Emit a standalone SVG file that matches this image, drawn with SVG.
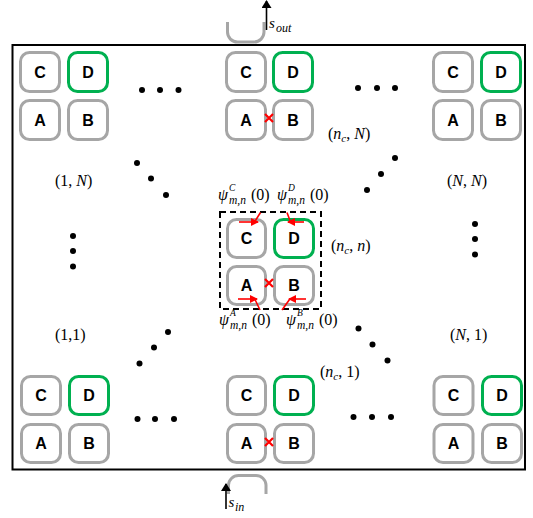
<svg xmlns="http://www.w3.org/2000/svg" width="533" height="518" viewBox="0 0 533 518">
<style>
.box{fill:none;stroke:#a6a6a6;stroke-width:3}
.grn{stroke:#00b050}
.lbl{font-family:"Liberation Sans",Arial,sans-serif;font-weight:bold;font-size:16px;text-anchor:middle;fill:#000}
.m{font-family:"Liberation Serif","DejaVu Serif",serif;font-size:16px;fill:#000}
.i{font-style:italic}
.s{font-size:11px}
.sb{font-size:11.5px}
.sp{font-size:9.5px}
.dot{fill:#000}
.red{stroke:#ff0000;stroke-width:1.6;fill:none}
.x{stroke:#ff0000;stroke-width:2.2}
.u{fill:none;stroke:#a6a6a6;stroke-width:3}
</style>
<defs>
<marker id="rh" viewBox="0 0 8 8" refX="7" refY="4" markerWidth="8" markerHeight="8" markerUnits="userSpaceOnUse" orient="auto">
<path d="M0,0 L8,4 L0,8 Z" fill="#ff0000"/>
</marker>
<marker id="bh" viewBox="0 0 8 10" refX="7" refY="5" markerWidth="8" markerHeight="10" markerUnits="userSpaceOnUse" orient="auto">
<path d="M0,0 L8,5 L0,10 Z" fill="#000"/>
</marker>
</defs>
<rect x="12.5" y="45" width="512.5" height="424.5" fill="none" stroke="#000" stroke-width="2"/>

<!-- I/O couplers -->
<path class="u" d="M227.5 22 V32 A10 10 0 0 0 237.5 42 H254 A10 10 0 0 0 264 32 V22"/>
<path class="u" d="M228.5 494 V485 A10 10 0 0 1 238.5 475.5 H256 A10 10 0 0 1 266 485 V494"/>

<!-- Module (1,N) -->
<g id="m-1-N">
<g id="m-1-N-C"><rect class="box" x="20.5" y="52.5" width="39" height="39" rx="9"/><text class="lbl" x="40" y="77.5">C</text></g>
<g id="m-1-N-D"><rect class="box grn" x="68.5" y="52.5" width="39" height="39" rx="9"/><text class="lbl" x="88" y="77.5">D</text></g>
<g id="m-1-N-A"><rect class="box" x="20.5" y="100.5" width="39" height="39" rx="9"/><text class="lbl" x="40" y="125.5">A</text></g>
<g id="m-1-N-B"><rect class="box" x="68.5" y="100.5" width="39" height="39" rx="9"/><text class="lbl" x="88" y="125.5">B</text></g>
</g>
<!-- Module (nc,N) -->
<g id="m-nc-N">
<g id="m-nc-N-C"><rect class="box" x="226.5" y="52.5" width="39" height="39" rx="9"/><text class="lbl" x="246" y="77.5">C</text></g>
<g id="m-nc-N-D"><rect class="box grn" x="273.5" y="52.5" width="39" height="39" rx="9"/><text class="lbl" x="293" y="77.5">D</text></g>
<g id="m-nc-N-A"><rect class="box" x="226.5" y="100.5" width="39" height="39" rx="9"/><text class="lbl" x="246" y="125.5">A</text></g>
<g id="m-nc-N-B"><rect class="box" x="273.5" y="100.5" width="39" height="39" rx="9"/><text class="lbl" x="293" y="125.5">B</text></g>
</g>
<!-- Module (N,N) -->
<g id="m-N-N">
<g id="m-N-N-C"><rect class="box" x="433.5" y="52.5" width="39" height="39" rx="9"/><text class="lbl" x="453" y="77.5">C</text></g>
<g id="m-N-N-D"><rect class="box grn" x="481.5" y="52.5" width="39" height="39" rx="9"/><text class="lbl" x="501" y="77.5">D</text></g>
<g id="m-N-N-A"><rect class="box" x="433.5" y="100.5" width="39" height="39" rx="9"/><text class="lbl" x="453" y="125.5">A</text></g>
<g id="m-N-N-B"><rect class="box" x="481.5" y="100.5" width="39" height="39" rx="9"/><text class="lbl" x="501" y="125.5">B</text></g>
</g>
<!-- Module (nc,n) -->
<g id="m-nc-n">
<g id="m-nc-n-C"><rect class="box" x="227.5" y="219.5" width="38" height="38" rx="9"/><text class="lbl" x="246.5" y="244">C</text></g>
<g id="m-nc-n-D"><rect class="box grn" x="274.5" y="219.5" width="39" height="38" rx="9"/><text class="lbl" x="294" y="244">D</text></g>
<g id="m-nc-n-A"><rect class="box" x="227.5" y="266.5" width="38" height="38" rx="9"/><text class="lbl" x="246.5" y="291">A</text></g>
<g id="m-nc-n-B"><rect class="box" x="274.5" y="266.5" width="39" height="38" rx="9"/><text class="lbl" x="294" y="291">B</text></g>
<rect x="220" y="212" width="101" height="97" fill="none" stroke="#000" stroke-width="2" stroke-dasharray="6,4"/>
</g>
<!-- Module (1,1) -->
<g id="m-1-1">
<g id="m-1-1-C"><rect class="box" x="21.5" y="376.5" width="39" height="38" rx="9"/><text class="lbl" x="41" y="401">C</text></g>
<g id="m-1-1-D"><rect class="box grn" x="69.5" y="376.5" width="39" height="38" rx="9"/><text class="lbl" x="89" y="401">D</text></g>
<g id="m-1-1-A"><rect class="box" x="21.5" y="424.5" width="39" height="38" rx="9"/><text class="lbl" x="41" y="449">A</text></g>
<g id="m-1-1-B"><rect class="box" x="69.5" y="424.5" width="39" height="38" rx="9"/><text class="lbl" x="89" y="449">B</text></g>
</g>
<!-- Module (nc,1) -->
<g id="m-nc-1">
<g id="m-nc-1-C"><rect class="box" x="227.5" y="376.5" width="38" height="38" rx="9"/><text class="lbl" x="246.5" y="401">C</text></g>
<g id="m-nc-1-D"><rect class="box grn" x="274.5" y="376.5" width="39" height="38" rx="9"/><text class="lbl" x="294" y="401">D</text></g>
<g id="m-nc-1-A"><rect class="box" x="227.5" y="424.5" width="38" height="38" rx="9"/><text class="lbl" x="246.5" y="449">A</text></g>
<g id="m-nc-1-B"><rect class="box" x="274.5" y="424.5" width="39" height="38" rx="9"/><text class="lbl" x="294" y="449">B</text></g>
</g>
<!-- Module (N,1) -->
<g id="m-N-1">
<g id="m-N-1-C"><rect class="box" x="434" y="376.5" width="39" height="38" rx="9"/><text class="lbl" x="453.5" y="401">C</text></g>
<g id="m-N-1-D"><rect class="box grn" x="482.5" y="376.5" width="39" height="38" rx="9"/><text class="lbl" x="502" y="401">D</text></g>
<g id="m-N-1-A"><rect class="box" x="434" y="424.5" width="39" height="38" rx="9"/><text class="lbl" x="453.5" y="449">A</text></g>
<g id="m-N-1-B"><rect class="box" x="482.5" y="424.5" width="39" height="38" rx="9"/><text class="lbl" x="502" y="449">B</text></g>
</g>

<!-- ellipsis dots -->
<g id="dots" class="dot">
<circle cx="142" cy="90" r="3"/><circle cx="160" cy="90" r="3"/><circle cx="178.5" cy="90" r="3"/>
<circle cx="358" cy="88" r="3"/><circle cx="377" cy="88" r="3"/><circle cx="395" cy="88" r="3"/>
<circle cx="137.5" cy="419" r="3"/><circle cx="155" cy="419" r="3"/><circle cx="174" cy="419" r="3"/>
<circle cx="353.5" cy="417" r="3"/><circle cx="372" cy="417" r="3"/><circle cx="391" cy="417" r="3"/>
<circle cx="137" cy="163" r="3"/><circle cx="151" cy="178.5" r="3"/><circle cx="166" cy="195" r="3"/>
<circle cx="395" cy="158" r="3"/><circle cx="381" cy="174" r="3"/><circle cx="367" cy="190" r="3"/>
<circle cx="168" cy="332" r="3"/><circle cx="154" cy="347.5" r="3"/><circle cx="139.5" cy="363.5" r="3"/>
<circle cx="358.5" cy="328.5" r="3"/><circle cx="372.5" cy="344.5" r="3"/><circle cx="387.5" cy="360.5" r="3"/>
<circle cx="73" cy="236" r="3"/><circle cx="73" cy="251" r="3"/><circle cx="73" cy="266.5" r="3"/>
<circle cx="475" cy="224" r="3"/><circle cx="475" cy="239" r="3"/><circle cx="475" cy="254.5" r="3"/>
</g>

<!-- connectors -->
<g id="connectors">
<line x1="266.5" y1="30" x2="266.5" y2="1" stroke="#000" stroke-width="1.6" marker-end="url(#bh)"/>
<line x1="226" y1="509" x2="226" y2="484" stroke="#000" stroke-width="1.6" marker-end="url(#bh)"/>
<line class="red" x1="239" y1="222" x2="258" y2="222" marker-end="url(#rh)"/>
<line class="red" x1="254.5" y1="222" x2="260.5" y2="212.5"/>
<line class="red" x1="304" y1="222" x2="288" y2="222" marker-end="url(#rh)"/>
<line class="red" x1="287" y1="212.5" x2="290.5" y2="222"/>
<line class="red" x1="238" y1="299" x2="257" y2="299" marker-end="url(#rh)"/>
<line class="red" x1="255" y1="299.5" x2="260" y2="310"/>
<line class="red" x1="306" y1="299" x2="289" y2="299" marker-end="url(#rh)"/>
<line class="red" x1="289.5" y1="299.5" x2="282" y2="310"/>
<path class="x" d="M265 114 L273 122 M273 114 L265 122"/>
<path class="x" d="M265 279 L273 287 M273 279 L265 287"/>
<path class="x" d="M265 438 L273 446 M273 438 L265 446"/>
</g>

<!-- labels -->
<g id="labels" class="m">
<text x="269" y="28" class="i" font-size="15">s<tspan x="276" dy="3.5" font-size="12">out</tspan></text>
<text x="228.5" y="507" class="i" font-size="15">s<tspan x="235" dy="3.5" font-size="12">in</tspan></text>
<text x="55" y="186">(1, <tspan class="i">N</tspan>)</text>
<text x="447" y="186">(<tspan class="i">N</tspan>, <tspan class="i">N</tspan>)</text>
<text x="328" y="138.5">(<tspan class="i">n</tspan><tspan class="i s" dy="3">c</tspan><tspan dy="-3">, </tspan><tspan class="i">N</tspan>)</text>
<text x="331" y="251">(<tspan class="i">n</tspan><tspan class="i s" dy="3">c</tspan><tspan dy="-3">, </tspan><tspan class="i">n</tspan>)</text>
<text x="55" y="340">(1,1)</text>
<text x="450" y="340">(<tspan class="i">N</tspan>, 1)</text>
<text x="320" y="376.5">(<tspan class="i">n</tspan><tspan class="i s" dy="3">c</tspan><tspan dy="-3">, 1)</tspan></text>
<text x="218" y="200"><tspan class="i">ψ</tspan><tspan class="i sp" x="229" dy="-9">C</tspan><tspan class="i sb" x="229" dy="13">m,n</tspan><tspan x="251" dy="-4">(0)</tspan></text>
<text x="277" y="200"><tspan class="i">ψ</tspan><tspan class="i sp" x="288" dy="-9">D</tspan><tspan class="i sb" x="288" dy="13">m,n</tspan><tspan x="310" dy="-4">(0)</tspan></text>
<text x="219" y="325"><tspan class="i">ψ</tspan><tspan class="i sp" x="230" dy="-9">A</tspan><tspan class="i sb" x="230" dy="13">m,n</tspan><tspan x="252" dy="-4">(0)</tspan></text>
<text x="286" y="325"><tspan class="i">ψ</tspan><tspan class="i sp" x="297" dy="-9">B</tspan><tspan class="i sb" x="297" dy="13">m,n</tspan><tspan x="319" dy="-4">(0)</tspan></text>
</g>
</svg>
